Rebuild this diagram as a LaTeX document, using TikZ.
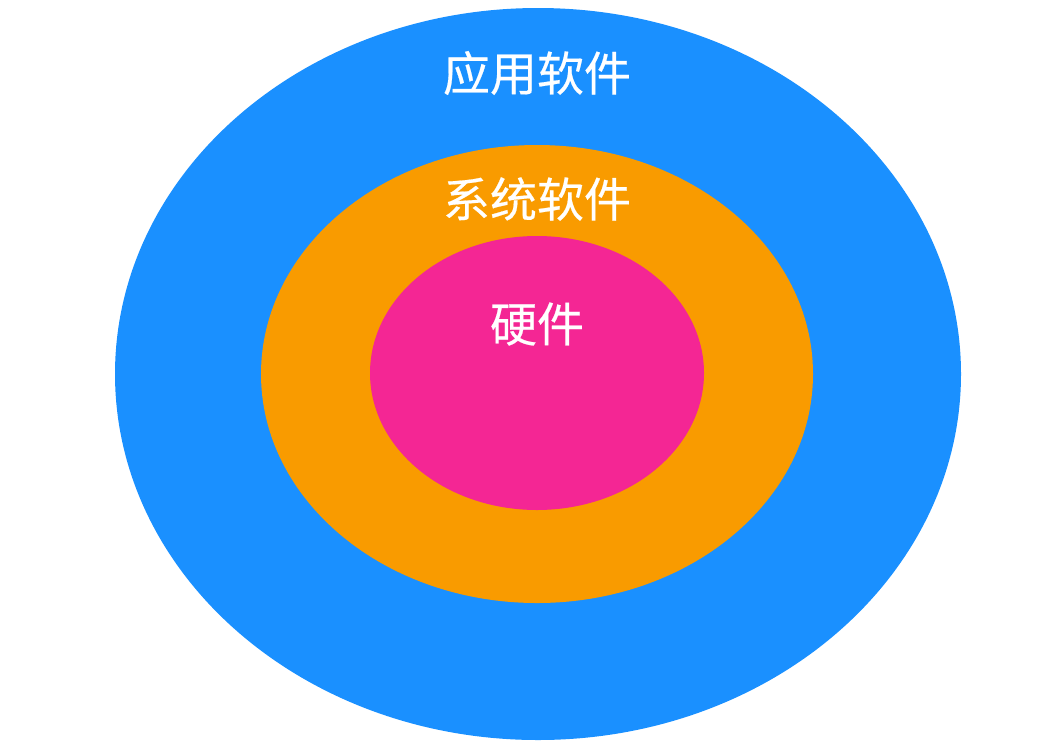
\documentclass[tikz,border=0pt]{standalone}
\usepackage{fontspec}
\newfontfamily\cjk[FakeBold=0.4]{Noto Sans CJK SC}
\definecolor{appblue}{HTML}{1A90FF}
\definecolor{sysorange}{HTML}{F99B00}
\definecolor{hwpink}{HTML}{F42694}
\begin{document}
\begin{tikzpicture}[x=1pt,y=-1pt,
  lbl/.style={text=white,font=\cjk\fontsize{47}{50}\selectfont,inner sep=0pt}]
\useasboundingbox (0,0) rectangle (1062,748);
\fill[appblue] (538,374) ellipse [x radius=423, y radius=366];
\fill[sysorange] (537,374) ellipse [x radius=276, y radius=229];
\fill[hwpink] (537,373) ellipse [x radius=167, y radius=137];
\node[lbl] (app) at (537,73) {应用软件};
\node[lbl] (sys) at (537,199) {系统软件};
\node[lbl] (hw) at (537,324) {硬件};
\end{tikzpicture}
\end{document}
